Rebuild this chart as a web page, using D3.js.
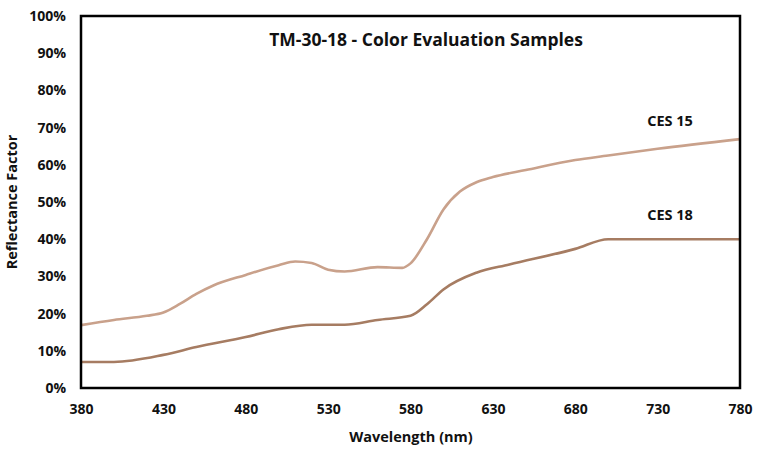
<!DOCTYPE html>
<html><head><meta charset="utf-8">
<script src="https://cdn.jsdelivr.net/npm/d3@7/dist/d3.min.js"></script>
<style>body{margin:0;background:#fff}text{font-family:"Open Sans",sans-serif;font-weight:bold;fill:#111}</style>
</head><body><svg id="c" width="768" height="458"></svg>
<script>
const wavelengths15 = [380,400,420,430,440,450,460,480,500,510,520,530,540,560,575,580,590,600,610,620,630,650,680,700,730,780];
const ces15 = [16.9,18.3,19.4,20.3,22.6,25.3,27.5,30.4,33.0,34.0,33.6,31.8,31.3,32.5,32.3,33.5,40.0,48.0,52.8,55.3,56.7,58.6,61.3,62.5,64.3,66.9];
const wavelengths18 = [380,400,430,450,480,500,520,540,560,580,590,600,620,640,680,700,780];
const ces18 = [7.0,7.0,8.9,11.0,13.7,15.8,17.0,17.0,18.3,19.4,22.5,26.5,31.0,33.2,37.4,40.0,40.0];
const xTicks = [380,430,480,530,580,630,680,730,780];
const yTicks = [0,10,20,30,40,50,60,70,80,90,100];

const svg = d3.select("#c");
const L=81,R=740,T=16,B=388;
const x = d3.scaleLinear().domain([380,780]).range([L,R]);
const y = d3.scaleLinear().domain([0,100]).range([B,T]);

svg.append("g").attr("transform",`translate(${L-15},0)`)
  .call(d3.axisLeft(y).tickValues(yTicks).tickSize(0).tickFormat(d=>d+"%"))
  .call(g=>g.select(".domain").remove())
  .selectAll("text").attr("x",0).style("font-size","14px");
svg.append("g").attr("transform",`translate(0,${B+13})`)
  .call(d3.axisBottom(x).tickValues(xTicks).tickSize(0))
  .call(g=>g.select(".domain").remove())
  .selectAll("text").style("font-size","14px");

const line = d3.line().x(d=>x(d[0])).y(d=>y(d[1])).curve(d3.curveMonotoneX);
svg.append("path").datum(wavelengths15.map((w,i)=>[w,ces15[i]]))
  .attr("d",line).attr("fill","none").attr("stroke","#c9a18b").attr("stroke-width",2.6);
svg.append("path").datum(wavelengths18.map((w,i)=>[w,ces18[i]]))
  .attr("d",line).attr("fill","none").attr("stroke","#a67c62").attr("stroke-width",2.6);

svg.append("rect").attr("x",L).attr("y",T).attr("width",R-L).attr("height",B-T)
  .attr("fill","none").attr("stroke","#000").attr("stroke-width",2.5);

svg.append("text").attr("x",426).attr("y",46).attr("text-anchor","middle").style("font-size","17.5px").text("TM-30-18 - Color Evaluation Samples");
svg.append("text").attr("x",670).attr("y",126).attr("text-anchor","middle").style("font-size","14.5px").text("CES 15");
svg.append("text").attr("x",670).attr("y",220).attr("text-anchor","middle").style("font-size","14.5px").text("CES 18");
svg.append("text").attr("x",411).attr("y",442).attr("text-anchor","middle").style("font-size","14.5px").text("Wavelength (nm)");
svg.append("text").attr("transform","translate(17,202) rotate(-90)").attr("text-anchor","middle").style("font-size","14.5px").text("Reflectance Factor");
</script></body></html>
